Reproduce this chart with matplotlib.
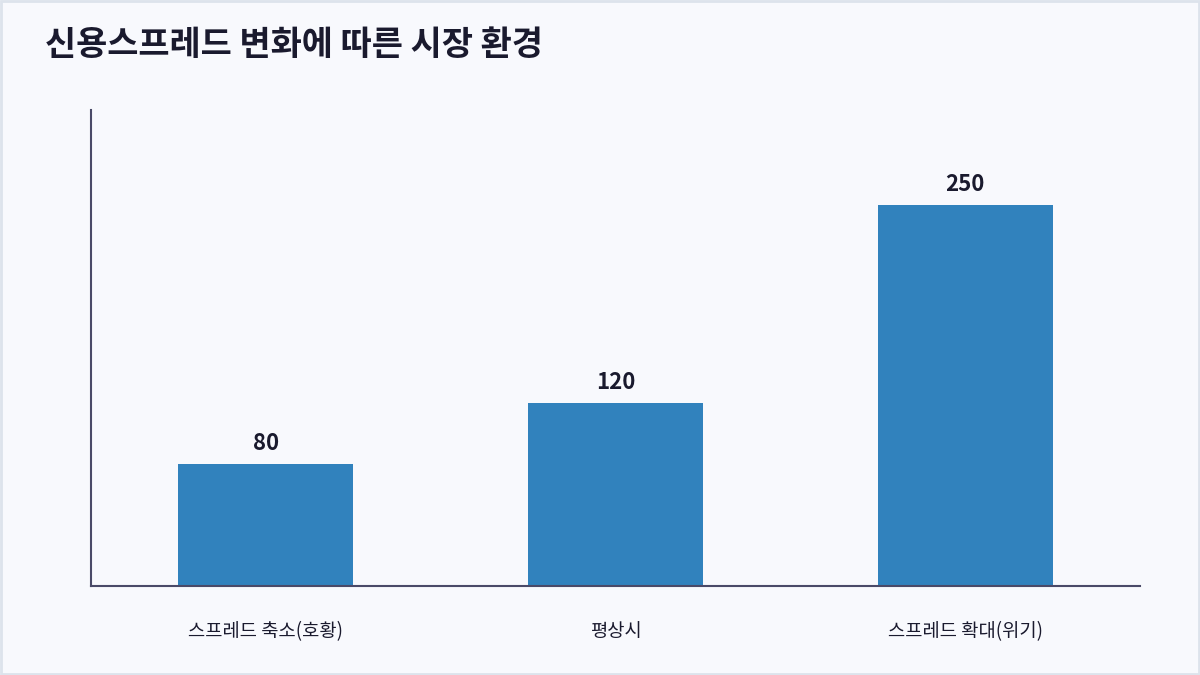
import matplotlib
matplotlib.use("Agg")
import matplotlib.pyplot as plt
from matplotlib.patches import Rectangle

plt.rcParams['font.family'] = ['Noto Sans CJK KR', 'DejaVu Sans']

title = '신용스프레드 변화에 따른 시장 환경'
categories = ['스프레드 축소(호황)', '평상시', '스프레드 확대(위기)']
values = [80, 120, 250]

bg = '#f8f9fd'
bar_color = '#3182bd'
text_color = '#1a1a2e'
spine_color = '#4a4a68'

fig = plt.figure(figsize=(12, 6.75), dpi=100, facecolor=bg)
fig.patches.append(Rectangle((0.001, 0.001), 0.998, 0.997, transform=fig.transFigure,
                             fill=False, edgecolor='#dde3ec', linewidth=2))

ax = fig.add_axes([91 / 1200, 1 - 586 / 675, 1049 / 1200, 476 / 675])
ax.set_facecolor(bg)

x = range(len(categories))
bars = ax.bar(x, values, width=0.5, color=bar_color)
for xi, v in zip(x, values):
    ax.text(xi, v + 6, str(v), ha='center', va='bottom', fontsize=16,
            fontweight='bold', color=text_color)

ax.set_xlim(-0.5, len(categories) - 0.5)
ax.set_ylim(0, max(values) * 1.25)
ax.set_xticks(list(x))
ax.set_xticklabels(categories, fontsize=13.5, fontweight='medium', color=text_color)
ax.tick_params(axis='x', length=0, pad=25)
ax.set_yticks([])

for side in ['top', 'right']:
    ax.spines[side].set_visible(False)
for side in ['left', 'bottom']:
    ax.spines[side].set_color(spine_color)
    ax.spines[side].set_linewidth(1.5)

fig.text(45 / 1200, 1 - 45 / 675, title, ha='left', va='center', fontsize=24.4,
         fontweight='bold', color=text_color)

fig.savefig('out.png', dpi=100, facecolor=bg)
